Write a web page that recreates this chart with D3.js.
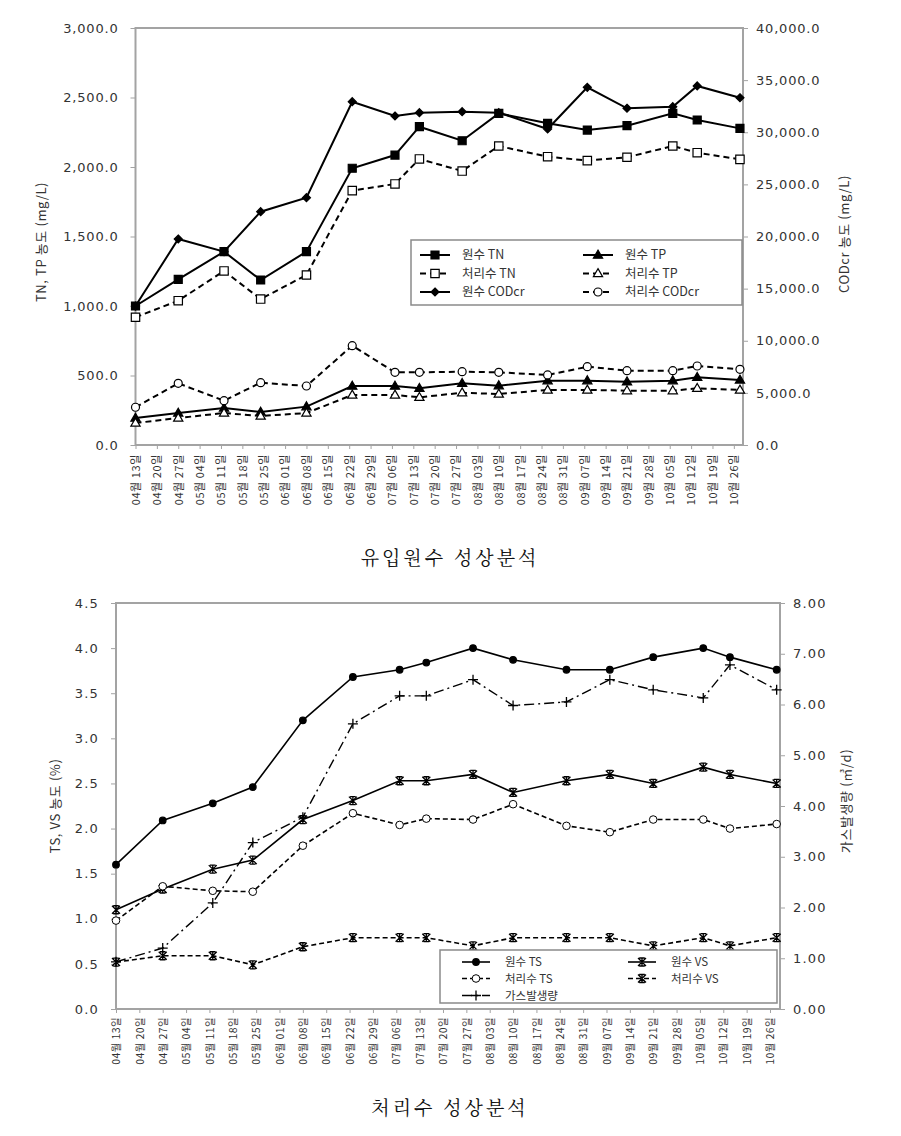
<!DOCTYPE html>
<html><head><meta charset="utf-8">
<script src="https://cdn.jsdelivr.net/npm/d3@7"></script>
<style>body{margin:0;background:#fff}svg{display:block}</style>
</head><body>
<svg id="c" width="901" height="1136"></svg>
<script>
// ---------------- DATA ----------------
const sampleDates = ["2009-04-13","2009-04-27","2009-05-12","2009-05-24","2009-06-08","2009-06-23","2009-07-07","2009-07-15","2009-07-29","2009-08-10","2009-08-26","2009-09-08","2009-09-21","2009-10-06","2009-10-14","2009-10-28"];
const tickLabels = ["04월 13일","04월 20일","04월 27일","05월 04일","05월 11일","05월 18일","05월 25일","06월 01일","06월 08일","06월 15일","06월 22일","06월 29일","07월 06일","07월 13일","07월 20일","07월 27일","08월 03일","08월 10일","08월 17일","08월 24일","08월 31일","09월 07일","09월 14일","09월 21일","09월 28일","10월 05일","10월 12일","10월 19일","10월 26일"];
const axisStart = "2009-04-13", axisEnd = "2009-10-29";

// chart 1: 유입원수 성상분석
const rawTN      = [1000,1192,1391,1187,1391,1991,2086,2290,2189,2386,2314,2266,2297,2386,2338,2278];
const treatedTN  = [919,1038,1252,1050,1223,1830,1878,2058,1971,2151,2074,2046,2070,2151,2103,2055];
const rawTP      = [194,230,266,237,276,424,424,408,444,427,463,463,455,463,487,468];
const treatedTP  = [158,194,230,209,230,360,360,343,376,367,396,396,391,391,408,396];
const rawCOD     = [13330,19760,18540,22380,23720,32930,31560,31880,31970,31880,30310,34310,32300,32450,34440,33310];
const treatedCOD = [3620,5920,4250,5980,5660,9530,6970,6970,7030,6970,6720,7510,7130,7130,7580,7260];
const leftTicks1 = [0,500,1000,1500,2000,2500,3000];
const rightTicks1 = [0,5000,10000,15000,20000,25000,30000,35000,40000];

// chart 2: 처리수 성상분석
const rawTS     = [1.60,2.09,2.28,2.46,3.20,3.68,3.76,3.84,4.00,3.87,3.76,3.76,3.90,4.00,3.90,3.76];
const treatedTS = [0.98,1.36,1.31,1.30,1.81,2.17,2.04,2.11,2.10,2.27,2.03,1.96,2.10,2.10,2.00,2.05];
const rawVS     = [1.10,1.33,1.55,1.65,2.10,2.31,2.53,2.53,2.60,2.40,2.53,2.60,2.50,2.68,2.60,2.50];
const treatedVS = [0.52,0.59,0.59,0.49,0.69,0.79,0.79,0.79,0.70,0.79,0.79,0.79,0.70,0.79,0.70,0.79];
const gasProd   = [0.93,1.20,2.09,3.28,3.78,5.62,6.17,6.17,6.49,5.98,6.05,6.49,6.29,6.13,6.78,6.29];
const leftTicks2 = [0,0.5,1.0,1.5,2.0,2.5,3.0,3.5,4.0,4.5];
const rightTicks2 = [0,1,2,3,4,5,6,7,8];

// ---------------- DRAWING ----------------
const svg = d3.select("#c");
const parse = d3.timeParse("%Y-%m-%d");
const dates = sampleDates.map(parse);
const tickDates = tickLabels.map(s => { const m = s.match(/(\d+)월 (\d+)일/); return new Date(2009, +m[1]-1, +m[2]); });
const NUMF = "DejaVu Sans, Liberation Sans, sans-serif";
const KRF = "Noto Sans CJK KR, sans-serif";
const FRAME = "#a3a3a3";

function markerPath(type, s) {
  switch (type) {
    case "sq": return `M${-s},${-s}h${2*s}v${2*s}h${-2*s}Z`;
    case "tri": return `M0,${-s*1.15}L${s*1.1},${s*0.75}L${-s*1.1},${s*0.75}Z`;
    case "dia": return `M0,${-s}L${s},0L0,${s}L${-s},0Z`;
    case "star": return `M${-s},${-s}L${s},${s}M${-s},${s}L${s},${-s}M0,${-s}V${s}M${-s*0.7},${-s}H${s*0.7}M${-s*0.7},${s}H${s*0.7}`;
    case "plus": return `M${-s},0H${s}M0,${-s}V${s}`;
  }
}
function drawMarker(g, m, x, y) {
  if (m.type === "circ") {
    g.append("circle").attr("cx", x).attr("cy", y).attr("r", m.size)
      .attr("fill", m.open ? "#fff" : "#000").attr("stroke", "#000").attr("stroke-width", m.sw || 1.2);
  } else {
    const line = (m.type === "star" || m.type === "plus");
    g.append("path").attr("transform", `translate(${x},${y})`).attr("d", markerPath(m.type, m.size))
      .attr("fill", line ? "none" : (m.open ? "#fff" : "#000"))
      .attr("stroke", "#000").attr("stroke-width", m.sw || 1.2);
  }
}

function drawChart(cfg) {
  const g = svg.append("g");
  const x = d3.scaleTime().domain([parse(axisStart), parse(axisEnd)]).range([cfg.left, cfg.right]);
  const yL = d3.scaleLinear().domain(cfg.leftDomain).range([cfg.bottom, cfg.top]);
  const yR = d3.scaleLinear().domain(cfg.rightDomain).range([cfg.bottom, cfg.top]);

  g.append("rect").attr("x", cfg.left).attr("y", cfg.top).attr("width", cfg.right - cfg.left)
    .attr("height", cfg.bottom - cfg.top).attr("fill", "none").attr("stroke", FRAME).attr("stroke-width", 2);

  const la = g.append("g").attr("transform", `translate(${cfg.left},0)`)
    .call(d3.axisLeft(yL).tickValues(cfg.leftTicks).tickFormat(d3.format(cfg.leftFmt)).tickSize(5).tickPadding(cfg.lpad));
  la.select(".domain").remove();
  la.selectAll("line").attr("stroke", FRAME).attr("stroke-width", 1);
  la.selectAll("text").attr("font-family", NUMF).attr("font-size", cfg.numSize).attr("fill", "#333").attr("letter-spacing", cfg.ls);

  const ra = g.append("g").attr("transform", `translate(${cfg.right},0)`)
    .call(d3.axisRight(yR).tickValues(cfg.rightTicks).tickFormat(d3.format(cfg.rightFmt)).tickSize(5).tickPadding(cfg.rpad));
  ra.select(".domain").remove();
  ra.selectAll("line").attr("stroke", FRAME).attr("stroke-width", 1);
  ra.selectAll("text").attr("font-family", NUMF).attr("font-size", cfg.numSize).attr("fill", "#333").attr("letter-spacing", cfg.ls);

  const ba = g.append("g").attr("transform", `translate(0,${cfg.bottom})`)
    .call(d3.axisBottom(x).tickValues(tickDates).tickFormat((d, i) => tickLabels[i]).tickSize(4));
  ba.select(".domain").remove();
  ba.selectAll("line").attr("stroke", FRAME).attr("stroke-width", 1);
  ba.selectAll("text").attr("font-family", KRF).attr("font-size", cfg.xSize).attr("fill", "#333")
    .attr("letter-spacing", cfg.xls)
    .attr("transform", "rotate(-90)").attr("text-anchor", "end").attr("dy", "0.35em")
    .attr("x", -cfg.xpad).attr("y", 0);

  g.append("text").attr("transform", `translate(${cfg.ltx},${cfg.lty}) rotate(-90)`).attr("text-anchor", "middle")
    .attr("font-family", KRF).attr("font-size", 13).attr("fill", "#333").attr("letter-spacing", 0.6).text(cfg.leftTitle);
  g.append("text").attr("transform", `translate(${cfg.rtx},${cfg.rty}) rotate(-90)`).attr("text-anchor", "middle")
    .attr("font-family", KRF).attr("font-size", 13).attr("fill", "#333").attr("letter-spacing", 0.6).text(cfg.rightTitle);

  cfg.series.forEach(s => {
    const y = s.axis === "R" ? yR : yL;
    const line = d3.line().x((d, i) => x(dates[i])).y(d => y(d));
    g.append("path").attr("d", line(s.values)).attr("fill", "none").attr("stroke", "#000")
      .attr("stroke-width", s.width).attr("stroke-dasharray", s.dash || null);
  });
  cfg.series.forEach(s => {
    const y = s.axis === "R" ? yR : yL;
    s.values.forEach((v, i) => drawMarker(g, s.marker, x(dates[i]), y(v)));
  });

  const L = cfg.legend;
  g.append("rect").attr("x", L.x).attr("y", L.y).attr("width", L.w).attr("height", L.h)
    .attr("fill", "#fff").attr("stroke", "#8a8a8a").attr("stroke-width", 1.5);
  cfg.series.forEach((s, k) => {
    const col = L.pos[k][0], row = L.pos[k][1];
    const sx = L.colX[col], sy = L.rowY[row];
    g.append("line").attr("x1", sx).attr("x2", sx + L.sw).attr("y1", sy).attr("y2", sy)
      .attr("stroke", "#000").attr("stroke-width", s.width).attr("stroke-dasharray", s.legendDash || s.dash || null);
    drawMarker(g, s.marker, sx + L.sw / 2, sy);
    g.append("text").attr("x", sx + L.tx).attr("y", sy).attr("dy", "0.35em")
      .attr("font-family", KRF).attr("font-size", L.fs).attr("fill", "#333").text(s.name);
  });

  g.append("text").attr("x", 450).attr("y", cfg.capY).attr("text-anchor", "middle")
    .attr("font-family", "Noto Serif CJK KR, " + KRF).attr("font-size", 19).attr("letter-spacing", 3)
    .attr("fill", "#111").text(cfg.caption);
}

drawChart({
  left: 135.5, right: 743, top: 28, bottom: 445,
  leftDomain: [0, 3000], rightDomain: [0, 40000],
  leftTicks: leftTicks1, rightTicks: rightTicks1, leftFmt: ",.1f", rightFmt: ",.1f",
  numSize: 13, ls: 0.8, lpad: 12, rpad: 8, xSize: 11, xls: 0.6, xpad: 9,
  leftTitle: "TN, TP 농도 (mg/L)", ltx: 46, lty: 242,
  rightTitle: "CODcr 농도 (mg/L)", rtx: 849, rty: 234,
  series: [
    {name: "원수 TN", values: rawTN, axis: "L", width: 2, marker: {type: "sq", size: 4}},
    {name: "원수 TP", values: rawTP, axis: "L", width: 2, marker: {type: "tri", size: 4.2}},
    {name: "처리수 TN", values: treatedTN, axis: "L", width: 2, dash: "6,4", marker: {type: "sq", size: 4.2, open: true}},
    {name: "처리수 TP", values: treatedTP, axis: "L", width: 2, dash: "6,4", marker: {type: "tri", size: 4.2, open: true}},
    {name: "원수 CODcr", values: rawCOD, axis: "R", width: 2, marker: {type: "dia", size: 4}},
    {name: "처리수 CODcr", values: treatedCOD, axis: "R", width: 2, dash: "6,4", marker: {type: "circ", size: 4, open: true}}
  ],
  legend: {x: 411, y: 240, w: 331, h: 65, colX: [420, 583], rowY: [255, 273.5, 292], sw: 30, tx: 42, fs: 12.5,
           pos: [[0,0],[1,0],[0,1],[1,1],[0,2],[1,2]]},
  caption: "유입원수 성상분석", capY: 565
});

drawChart({
  left: 116, right: 780, top: 603, bottom: 1009,
  leftDomain: [0, 4.5], rightDomain: [0, 8],
  leftTicks: leftTicks2, rightTicks: rightTicks2, leftFmt: ".1f", rightFmt: ".2f",
  numSize: 13, ls: 1.2, lpad: 12, rpad: 8, xSize: 10.5, xls: 0.4, xpad: 8,
  leftTitle: "TS, VS 농도 (%)", ltx: 60, lty: 806,
  rightTitle: "가스발생량 (㎥/d)", rtx: 851, rty: 801,
  series: [
    {name: "원수 TS", values: rawTS, axis: "L", width: 1.6, marker: {type: "circ", size: 3.3}},
    {name: "원수 VS", values: rawVS, axis: "L", width: 1.6, marker: {type: "star", size: 4, sw: 1.3}},
    {name: "처리수 TS", values: treatedTS, axis: "L", width: 1.6, dash: "5,3", marker: {type: "circ", size: 3.8, open: true, sw: 1}},
    {name: "처리수 VS", values: treatedVS, axis: "L", width: 1.6, dash: "5,3", marker: {type: "star", size: 4, sw: 1.3}},
    {name: "가스발생량", values: gasProd, axis: "R", width: 1.4, dash: "10,4,2,4", legendDash: null, marker: {type: "plus", size: 5, sw: 1.3}}
  ],
  legend: {x: 440, y: 950, w: 337, h: 53, colX: [462, 628], rowY: [962, 978.5, 995.5], sw: 28, tx: 43, fs: 11.5,
           pos: [[0,0],[1,0],[0,1],[1,1],[0,2]]},
  caption: "처리수 성상분석", capY: 1115
});
</script>
</body></html>
